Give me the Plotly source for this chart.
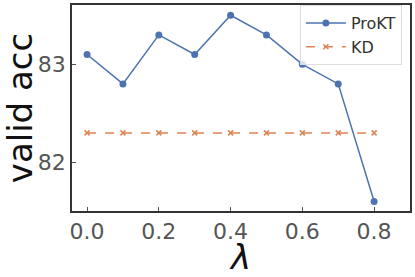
import plotly.graph_objects as go

lam = [0.0, 0.1, 0.2, 0.3, 0.4, 0.5, 0.6, 0.7, 0.8]
prokt = [83.1, 82.8, 83.3, 83.1, 83.5, 83.3, 83.0, 82.8, 81.6]
kd = [82.3, 82.3, 82.3, 82.3, 82.3, 82.3, 82.3, 82.3, 82.3]
x_ticks = [0.0, 0.2, 0.4, 0.6, 0.8]
x_tick_labels = ["0.0", "0.2", "0.4", "0.6", "0.8"]
y_ticks = [82, 83]
y_tick_labels = ["82", "83"]

fig = go.Figure()
fig.add_trace(go.Scatter(x=lam, y=prokt, name="ProKT", mode="lines+markers",
                         line=dict(color="#4C72B0", width=1.5),
                         marker=dict(symbol="circle", size=7, color="#4C72B0")))
fig.add_trace(go.Scatter(x=lam, y=kd, name="KD", mode="lines+markers",
                         line=dict(color="#DD8452", width=1.5, dash="dash"),
                         marker=dict(symbol="x-thin", size=5, color="#DD8452",
                                     line=dict(color="#DD8452", width=1.5))))

axis_common = dict(showline=True, linecolor="#333333", linewidth=1.5, mirror=True,
                   ticks="inside", ticklen=4, tickwidth=1, tickcolor="#555555",
                   showgrid=False, zeroline=False, automargin=False,
                   tickfont=dict(family="DejaVu Sans", size=22, color="#555555"))

fig.update_layout(
    width=415, height=277,
    margin=dict(l=72, r=5, t=5, b=66),
    plot_bgcolor="white", paper_bgcolor="white",
    xaxis=dict(range=[-0.042, 0.9], tickvals=x_ticks, ticktext=x_tick_labels,
               title=dict(text="<i>λ</i>", font=dict(family="DejaVu Sans", size=34, color="#111111"),
                          standoff=4),
               **axis_common),
    yaxis=dict(range=[81.503, 83.605], tickvals=y_ticks, ticktext=y_tick_labels,
               title=dict(text="valid acc", font=dict(family="DejaVu Sans", size=34, color="#111111"),
                          standoff=2),
               **axis_common),
    legend=dict(x=0.976, y=1.0, xanchor="right", yanchor="top", itemwidth=40,
                bgcolor="rgba(255,255,255,0.8)", bordercolor="#dddddd", borderwidth=1,
                font=dict(family="DejaVu Sans", size=16, color="#333333")),
    showlegend=True,
)

fig.write_html("out.html", config={"displayModeBar": False},
               post_script="document.body.style.margin='0';")
